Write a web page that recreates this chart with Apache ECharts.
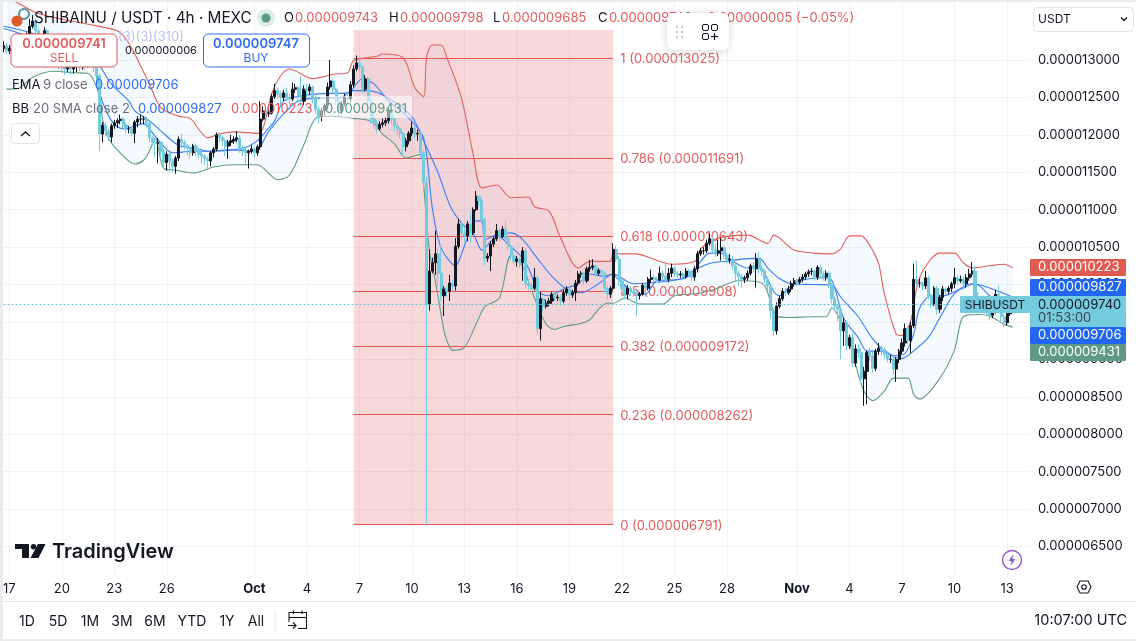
<!DOCTYPE html>
<html>
<head>
<meta charset="utf-8">
<title>SHIBAINU / USDT</title>
<script src="https://cdn.jsdelivr.net/npm/echarts@6/dist/echarts.min.js"></script>
<style>
html,body{margin:0;padding:0;background:#fff;}
#chart{width:1136px;height:641px;}
</style>
</head>
<body>
<div id="chart"></div>
<script>
// all prices in millionths of a USDT, 4h candles, index 0 = Sep 16 16:00
const closes = [
13.19,13.12,13.16,13.09,13.01,13.05, 13.15,13.23,13.32,13.45,13.52,13.39, 13.32,13.25,13.39,13.19,13.05,12.99,
12.96,12.92,12.91,12.88,12.91,12.88, 12.91,12.93,12.91,12.96,12.93,12.99, 12.96,12.91,12.79,12.01,12.13,12.05,
11.97,12.12,12.16,12.19,12.21,12.13, 12.08,12.08,12.02,12.17,12.21,12.21, 12.21,12.16,11.96,11.90,11.88,11.90,
11.78,11.63,11.74,11.65,11.58,11.69, 11.94,11.90,11.86,11.82,11.76,11.85, 11.78,11.74,11.72,11.68,11.65,11.76,
11.81,12.00,11.96,11.92,11.85,11.90, 11.92,11.94,11.96,11.81,11.80,11.76, 11.78,11.81,11.76,11.84,12.21,12.32,
12.29,12.29,12.51,12.59,12.55,12.50, 12.56,12.50,12.48,12.61,12.63,12.52, 12.45,12.61,12.59,12.64,12.50,12.34,
12.24,12.32,12.39,12.64,12.72,12.61, 12.45,12.32,12.41,12.50,12.48,12.67, 12.88,12.96,12.91,12.61,12.75,12.45,
12.21,12.16,12.08,12.14,12.16,12.19, 12.32,12.21,12.12,12.08,12.02,11.84, 11.92,12.02,12.09,12.01,12.02,11.76,
11.36,9.74,10.18,10.29,10.41,10.15, 9.85,9.94,9.91,10.02,9.98,10.51, 10.81,10.69,10.65,10.81,10.69,11.00,
11.18,11.12,10.87,10.35,10.38,10.54, 10.61,10.72,10.64,10.74,10.61,10.51, 10.38,10.31,10.34,10.29,10.45,10.01,
9.98,9.95,10.09,9.41,9.81,9.71, 9.75,9.78,9.87,9.82,9.83,9.78, 9.89,9.94,9.86,9.89,10.02,10.14,
10.15,10.05,10.21,10.23,10.25,10.15, 10.19,10.15,9.95,9.87,9.95,10.47, 10.34,10.05,9.94,9.87,9.95,9.91,
9.89,9.85,9.87,9.99,9.95,10.07, 10.09,10.07,10.06,10.15,10.11,10.07, 10.15,10.22,10.15,10.13,10.14,10.11,
10.18,10.15,10.10,10.21,10.41,10.45, 10.45,10.55,10.61,10.47,10.42,10.45, 10.49,10.39,10.33,10.34,10.25,10.15,
10.11,10.07,10.09,10.15,10.25,10.21, 10.34,10.21,10.18,10.07,9.98,9.65, 9.38,9.71,9.81,9.91,9.89,9.94,
10.01,10.05,10.03,10.07,10.10,10.14, 10.17,10.18,10.10,10.23,10.15,10.10, 10.15,9.99,9.81,9.71,9.67,9.38,
9.49,9.18,9.29,8.95,9.14,9.09, 8.74,8.84,9.09,9.05,8.88,9.11, 9.15,9.13,9.07,9.00,9.00,8.87,
9.00,9.11,9.22,9.41,9.25,9.45, 10.07,10.02,10.02,9.98,10.09,9.85, 9.74,9.95,9.67,9.83,9.94,9.91,
9.95,10.01,10.09,10.05,10.07,10.01, 10.09,10.14,10.18,9.83,9.78,9.74, 9.70,9.65,9.59,9.65,9.87,9.78,
9.57,9.49,9.61,9.74
];
const highs = [
13.25,13.23,13.20,13.19,13.12,13.10, 13.20,13.27,13.37,13.55,13.60,13.55, 13.43,13.35,13.44,13.42,13.22,13.08,
13.02,12.99,12.96,12.94,12.95,12.94, 12.95,12.97,12.96,12.99,12.98,13.03, 13.03,13.00,12.93,12.82,12.17,12.16,
12.08,12.15,12.20,12.22,12.27,12.24, 12.16,12.12,12.10,12.20,12.25,12.27, 12.25,12.24,12.18,11.98,11.94,11.96,
11.92,11.81,11.78,11.77,11.68,11.72, 11.98,12.02,11.93,11.88,11.85,11.88, 11.88,11.80,11.77,11.74,11.71,11.78,
11.84,12.03,12.03,11.99,11.95,11.93, 12.00,11.98,12.05,12.00,11.86,11.83, 11.80,11.86,11.84,11.87,12.45,12.38,
12.36,12.34,12.54,12.68,12.63,12.58, 12.60,12.63,12.55,12.70,12.68,12.66, 12.78,12.66,12.68,12.68,12.66,12.52,
12.38,12.36,12.42,12.70,13.00,12.75, 12.63,12.48,12.45,12.55,12.56,12.72, 12.93,13.06,13.00,12.93,12.80,12.78,
12.50,12.28,12.20,12.18,12.22,12.23, 12.36,12.37,12.24,12.16,12.10,12.04, 11.96,12.05,12.17,12.12,12.07,12.05,
11.80,11.44,10.47,10.36,10.72,10.48, 10.52,9.98,9.98,10.13,10.06,10.62, 10.88,10.85,10.76,10.85,10.98,11.03,
11.25,11.18,11.15,10.90,10.42,10.58, 10.64,10.81,10.75,10.78,10.85,10.64, 10.53,10.40,10.38,10.36,10.50,10.49,
10.06,10.02,10.22,10.12,9.90,9.83, 9.80,9.82,9.90,9.90,9.87,9.86, 9.93,9.98,9.96,9.93,10.06,10.18,
10.18,10.17,10.24,10.33,10.34,10.27, 10.22,10.21,10.18,9.98,9.98,10.55, 10.52,10.38,10.08,9.98,9.99,9.98,
9.95,9.93,9.90,10.02,10.01,10.10, 10.20,10.13,10.10,10.24,10.19,10.31, 10.22,10.28,10.25,10.18,10.18,10.17,
10.22,10.21,10.19,10.25,10.45,10.49, 10.50,10.60,10.68,10.64,10.54,10.60, 10.62,10.52,10.42,10.41,10.38,10.28,
10.18,10.14,10.12,10.19,10.28,10.30, 10.42,10.43,10.26,10.20,10.10,10.00, 9.68,9.76,9.85,9.95,9.95,9.98,
10.05,10.09,10.08,10.10,10.14,10.17, 10.20,10.22,10.21,10.26,10.25,10.18, 10.19,10.18,10.02,9.84,9.74,9.69,
9.56,9.52,9.33,9.35,9.20,9.20, 9.15,8.90,9.12,9.15,9.10,9.14, 9.22,9.19,9.16,9.10,9.06,9.06,
9.03,9.14,9.28,9.48,9.44,9.50, 10.28,10.32,10.08,10.05,10.18,10.12, 9.88,9.98,9.98,9.86,9.98,9.96,
9.98,10.04,10.22,10.13,10.12,10.11, 10.14,10.21,10.30,10.25,9.90,9.85, 9.78,9.75,9.68,9.70,9.93,9.98,
9.80,9.60,9.65,9.78
];
const lows = [
13.10,13.08,13.08,13.05,12.97,12.98, 13.02,13.12,13.20,13.30,13.42,13.33, 13.27,13.20,13.22,13.15,13.00,12.95,
12.90,12.87,12.84,12.80,12.84,12.80, 12.82,12.84,12.85,12.87,12.87,12.90, 12.90,12.84,12.70,11.78,11.90,11.98,
11.92,11.90,12.08,12.09,12.14,12.09, 12.02,12.02,11.98,11.89,12.10,12.14, 12.14,12.10,11.90,11.85,11.70,11.62,
11.72,11.55,11.52,11.50,11.50,11.48, 11.65,11.82,11.80,11.72,11.68,11.72, 11.72,11.68,11.62,11.60,11.55,11.58,
11.70,11.78,11.90,11.85,11.72,11.68, 11.85,11.88,11.90,11.76,11.72,11.60, 11.55,11.75,11.70,11.72,11.80,12.18,
12.25,12.24,12.27,12.48,12.48,12.40, 12.45,12.45,12.42,12.45,12.56,12.45, 12.38,12.40,12.50,12.54,12.42,12.28,
12.15,12.18,12.26,12.34,12.60,12.55, 12.40,12.25,12.28,12.38,12.42,12.44, 12.63,12.85,12.85,12.55,12.58,12.40,
12.15,12.10,12.02,12.06,12.10,12.12, 12.15,12.15,12.05,12.00,11.95,11.72, 11.78,11.87,11.98,11.95,11.92,11.70,
11.28,6.79,9.65,10.15,10.13,9.98, 9.78,9.58,9.84,9.78,9.92,9.92, 10.48,10.60,10.55,10.58,10.55,10.66,
10.98,11.05,10.82,10.25,10.30,10.18, 10.50,10.58,10.58,10.62,10.55,10.46, 10.33,10.27,10.24,10.22,10.05,9.95,
9.92,9.90,9.92,9.33,9.25,9.64, 9.68,9.71,9.74,9.78,9.78,9.72, 9.75,9.85,9.80,9.82,9.78,9.98,
10.09,10.00,10.02,10.17,10.19,10.10, 10.12,10.10,9.90,9.80,9.82,9.92, 10.30,9.98,9.85,9.80,9.80,9.85,
9.84,9.58,9.80,9.85,9.88,9.92, 10.02,10.03,10.02,10.04,10.07,10.02, 10.03,10.10,10.10,10.09,10.09,10.07,
10.08,10.11,10.05,10.05,10.16,10.38, 10.40,10.42,10.52,10.42,10.37,10.38, 10.32,10.34,10.28,10.28,10.20,10.05,
9.98,9.95,10.02,10.05,10.12,10.16, 9.96,10.15,10.12,10.02,9.92,9.55, 9.32,9.33,9.68,9.78,9.84,9.86,
9.90,9.97,9.98,10.00,10.03,10.06, 10.10,10.12,10.05,10.06,10.10,10.05, 10.05,9.95,9.75,9.65,9.51,9.00,
9.18,9.12,9.14,8.90,8.90,9.02, 8.68,8.38,8.40,8.98,8.82,8.84, 9.06,9.05,9.01,8.96,8.95,8.80,
8.70,8.95,9.07,9.17,9.20,9.08, 9.42,9.97,9.96,9.92,9.94,9.80, 9.68,9.71,9.60,9.62,9.78,9.85,
9.87,9.90,9.95,10.00,10.02,9.95, 9.96,10.05,10.10,9.80,9.72,9.68, 9.64,9.60,9.52,9.55,9.61,9.72,
9.50,9.43,9.45,9.58
];
const firstOpen = 13.15;

// indicator readings as [candle index, price]
const bbUpper = [[1,13.85],[5,13.76],[12,13.62],[23,13.52],[30,13.47],[39,13.39],[42,13.28],[45,13.08],[50,12.68],[54,12.36],[60,12.25],[64,12.22],[67,12.07],[70,11.96],[74,12.01],[79,12.04],[87,12.02],[89,12.09],[92,12.56],[95,12.79],[98,12.88],[106,12.75],[113,12.81],[118,12.83],[120,12.99],[128,13.05],[130,13.08],[137,13.03],[141,12.63],[144,12.51],[145,13.03],[147,13.20],[150,13.20],[152,13.03],[157,12.49],[161,11.74],[164,11.29],[169,11.33],[174,11.16],[180,11.17],[182,11.04],[187,10.98],[191,10.62],[197,10.22],[201,10.31],[208,10.31],[209,10.41],[217,10.41],[222,10.35],[229,10.27],[237,10.31],[239,10.48],[245,10.62],[255,10.66],[262,10.55],[264,10.66],[271,10.46],[278,10.42],[284,10.41],[287,10.48],[290,10.65],[294,10.65],[296,10.58],[298,10.45],[300,10.28],[302,9.87],[306,9.34],[308,9.32],[311,9.52],[314,10.09],[321,10.42],[326,10.42],[329,10.29],[332,10.22],[338,10.25],[343,10.27],[346,10.22]];
const bbLower = [[1,12.61],[5,12.62],[10,12.77],[17,12.85],[24,12.83],[29,12.82],[33,12.51],[34,12.20],[36,11.95],[39,11.80],[45,11.61],[48,11.66],[50,11.78],[52,11.95],[55,11.55],[59,11.53],[65,11.49],[72,11.57],[79,11.60],[87,11.60],[94,11.40],[98,11.46],[103,11.87],[107,12.22],[112,12.25],[120,12.22],[126,12.18],[130,12.01],[134,11.88],[138,11.69],[143,11.74],[144,11.34],[146,10.45],[148,10.05],[151,9.38],[152,9.25],[154,9.12],[158,9.16],[162,9.47],[165,9.70],[170,9.82],[174,10.39],[178,10.23],[182,9.82],[186,9.47],[189,9.40],[192,9.44],[198,9.48],[201,9.53],[204,9.67],[207,9.75],[209,9.75],[213,9.82],[218,9.74],[226,9.74],[230,9.85],[238,9.88],[244,9.94],[252,10.05],[258,10.04],[261,9.98],[265,9.58],[269,9.56],[278,9.57],[282,9.57],[284,9.69],[287,9.51],[289,9.34],[292,8.94],[295,8.57],[298,8.45],[302,8.58],[305,8.75],[310,8.75],[312,8.53],[314,8.47],[321,8.75],[326,9.13],[329,9.57],[334,9.60],[338,9.58],[343,9.47],[346,9.43]];
const bbBasis = [[0,13.45],[8,13.38],[18,13.25],[26,13.12],[31,13.03],[37,12.68],[43,12.45],[45,12.32],[50,12.19],[54,12.05],[60,11.86],[66,11.82],[70,11.78],[77,11.80],[86,11.78],[91,12.05],[96,12.28],[101,12.45],[108,12.49],[115,12.49],[120,12.59],[125,12.59],[132,12.49],[140,12.24],[144,11.92],[149,11.49],[153,11.06],[157,10.82],[161,10.68],[164,10.46],[168,10.61],[174,10.69],[178,10.60],[183,10.35],[188,10.11],[193,9.94],[198,9.89],[204,10.01],[209,10.14],[216,10.01],[229,10.05],[233,10.09],[238,10.22],[243,10.29],[248,10.31],[253,10.34],[259,10.35],[262,10.22],[266,10.08],[270,10.01],[278,10.00],[284,9.99],[287,9.83],[293,9.57],[298,9.27],[303,9.08],[308,9.01],[310,9.05],[317,9.29],[321,9.56],[326,9.88],[332,10.01],[336,9.98],[341,9.91],[346,9.83]];
const ema9 = [[0,13.42],[6,13.35],[15,13.20],[24,13.10],[31,12.95],[33,12.55],[37,12.19],[41,12.08],[48,12.15],[52,11.98],[58,11.76],[65,11.78],[72,11.78],[82,11.82],[87,11.92],[90,12.05],[93,12.19],[96,12.45],[102,12.52],[109,12.55],[118,12.56],[123,12.75],[127,12.68],[132,12.45],[139,12.22],[144,11.96],[147,11.02],[150,10.49],[155,10.25],[157,10.41],[159,10.62],[162,10.85],[164,10.85],[165,10.60],[169,10.66],[173,10.54],[178,10.35],[181,10.13],[183,9.91],[187,9.85],[192,9.94],[197,10.01],[201,10.14],[206,10.11],[209,10.14],[210,10.10],[213,9.99],[216,9.89],[220,9.87],[224,10.05],[232,10.07],[236,10.14],[239,10.31],[242,10.42],[246,10.42],[250,10.31],[255,10.22],[258,10.25],[261,10.14],[264,9.91],[266,9.85],[269,9.95],[273,10.05],[281,10.09],[284,10.05],[288,9.55],[293,9.29],[296,9.11],[302,9.11],[305,9.05],[309,9.08],[312,9.34],[314,9.68],[318,9.85],[322,9.85],[328,9.94],[333,10.01],[338,9.85],[342,9.71],[346,9.71]];

// fib retracement
const fibRatios = ['1','0.786','0.618','0.5','0.382','0.236','0'];
const fibPrices = [13.025,11.691,10.643,9.908,9.172,8.262,6.791];
const fibRange = [120,209];
const fibTop = 13.40;

const lastPrice = 9.74;
const candleCount = 353;
const xTickIndex = [2,20,38,56,86,104,122,140,158,176,194,212,230,248,272,290,308,326,344];
const xTickLabels = ['17','20','23','26','Oct','4','7','10','13','16','19','22','25','28','Nov','4','7','10','13'];
const yTicks = [6.5,7,7.5,8,8.5,9,9.5,10,10.5,11,11.5,12,12.5,13];

const FONT = 'Inter, "Liberation Sans", sans-serif';
const RED = '#e05c5c', BLUE = '#2f6bf0', GREEN = '#5f9a85', TEAL = '#74cbdd', INK = '#131722', GRID = '#f1f2f5';

const categories = Array.from({ length: candleCount }, (_, i) => String(i));
const ohlc = closes.map((c, i) => [i === 0 ? firstOpen : closes[i - 1], c, lows[i], highs[i]]);

function fmtPrice(v) { return (v / 1e6).toFixed(9); }

function txt(x, y, text, fill, size, weight, align) {
  return {
    type: 'text', x: x, y: y, z: 20, silent: true,
    style: { text: text, fill: fill, font: (weight || 400) + ' ' + (size || 13) + 'px ' + FONT, align: align || 'left', verticalAlign: 'middle' }
  };
}
function box(x, y, w, h, fill, stroke, r, z) {
  return {
    type: 'rect', z: z || 18, silent: true,
    shape: { x: x, y: y, width: w, height: h, r: r || 0 },
    style: { fill: fill, stroke: stroke || null, lineWidth: 1 }
  };
}
function stroke(points, color, w) {
  return { type: 'polyline', z: 20, silent: true, shape: { points: points }, style: { stroke: color, fill: null, lineWidth: w || 1.3 } };
}
function tag(y, h, color, text) {
  return [box(1030, y, 96, h, color, null, 1, 19), txt(1038, y + h / 2, text, '#fff', 13)];
}

const overlay = [
  // header
  { type: 'circle', z: 20, silent: true, shape: { cx: 24, cy: 14, r: 5 }, style: { fill: null, stroke: '#5a8f9a', lineWidth: 2 } },
  { type: 'circle', z: 20, silent: true, shape: { cx: 17, cy: 21, r: 5.5 }, style: { fill: '#e0592a' } },
  txt(34, 18, 'SHIBAINU / USDT · 4h · MEXC', INK, 15.3),
  { type: 'circle', z: 20, silent: true, shape: { cx: 266, cy: 18, r: 9 }, style: { fill: '#dcebe5' } },
  { type: 'circle', z: 20, silent: true, shape: { cx: 266, cy: 18, r: 4.5 }, style: { fill: '#5f9a85' } },
  txt(284, 18, 'O', INK, 13), txt(295, 18, '0.000009743', RED, 13),
  txt(389, 18, 'H', INK, 13), txt(400, 18, '0.000009798', RED, 13),
  txt(493, 18, 'L', INK, 13), txt(502, 18, '0.000009685', RED, 13),
  txt(598, 18, 'C', INK, 13), txt(609, 18, '0.000009740', RED, 13),
  txt(699, 18, '−0.000000005 (−0.05%)', RED, 13),
  // floating toolbar
  Object.assign(box(667, 13, 62, 37, '#fff', null, 6, 21), { style: { fill: '#fff', shadowBlur: 8, shadowColor: 'rgba(0,0,0,0.16)', shadowOffsetY: 1 } }),
  box(676, 26, 2, 2, '#c8cad0', null, 0, 22), box(681, 26, 2, 2, '#c8cad0', null, 0, 22),
  box(676, 31, 2, 2, '#c8cad0', null, 0, 22), box(681, 31, 2, 2, '#c8cad0', null, 0, 22),
  box(676, 36, 2, 2, '#c8cad0', null, 0, 22), box(681, 36, 2, 2, '#c8cad0', null, 0, 22),
  box(702.5, 24.5, 6, 6, null, INK, 1.5, 22), box(711.5, 24.5, 6, 6, null, INK, 1.5, 22), box(702.5, 33.5, 6, 6, null, INK, 1.5, 22),
  Object.assign(stroke([[711, 36.5], [718, 36.5]], INK, 1.2), { z: 22 }), Object.assign(stroke([[714.5, 33], [714.5, 40]], INK, 1.2), { z: 22 }),
  // sell / buy
  txt(118, 37, '(3)(3)(310)', '#b6c3f5', 13),
  box(11, 34, 106, 33, '#fff', RED, 5),
  txt(64, 44, '0.000009741', RED, 13, 600, 'center'), txt(64, 58, 'SELL', RED, 12, 400, 'center'),
  txt(161, 51, '0.000000006', INK, 11, 400, 'center'),
  box(203.5, 34, 106, 33, '#fff', BLUE, 5),
  txt(256, 44, '0.000009747', BLUE, 13, 600, 'center'), txt(256, 58, 'BUY', BLUE, 12, 400, 'center'),
  // indicator legends
  txt(12, 85, 'EMA', INK, 13), txt(43, 85, '9 close', '#6a6d78', 13), txt(95, 85, '0.000009706', BLUE, 13),
  box(320, 96, 92, 22, 'rgba(255,255,255,0.55)', null, 0, 17),
  txt(12, 109, 'BB', INK, 13), txt(33, 109, '20 SMA close 2', '#6a6d78', 13),
  txt(138, 109, '0.000009827', BLUE, 13), txt(231, 109, '0.000010223', RED, 13), txt(325, 109, '0.000009431', GREEN, 13),
  box(11.5, 123.5, 28, 20, '#fff', '#e0e3eb', 3),
  stroke([[21, 136], [25.5, 132], [30, 136]], INK, 1.4),
  // price tags
  ...tag(259, 17, '#e05c52', '0.000010223'),
  ...tag(279, 17, '#2167f2', '0.000009827'),
  box(1030, 296, 96, 31, TEAL, null, 1, 19),
  txt(1038, 305, '0.000009740', INK, 13), txt(1038, 318, '01:53:00', '#3d4450', 13),
  ...tag(327, 17, '#2167f2', '0.000009706'),
  ...tag(344, 17, '#5f9a85', '0.000009431'),
  box(960, 296, 70, 17, TEAL, null, 1, 19), txt(995, 305, 'SHIBUSDT', INK, 12, 400, 'center'),
  // currency select
  box(1033.5, 7.5, 100, 24, '#fff', '#e0e3eb', 4),
  txt(1038, 19, 'USDT', INK, 12),
  stroke([[1121, 17.5], [1124, 20.5], [1127, 17.5]], INK, 1.3),
  // logo
  { type: 'polygon', z: 20, silent: true, shape: { points: [[15, 544], [29, 544], [29, 558], [22, 558], [22, 549], [15, 549]] }, style: { fill: INK } },
  { type: 'circle', z: 20, silent: true, shape: { cx: 33.5, cy: 546.7, r: 2.7 }, style: { fill: INK } },
  { type: 'polygon', z: 20, silent: true, shape: { points: [[38, 544], [45.5, 544], [38.5, 558], [30.5, 558]] }, style: { fill: INK } },
  txt(52, 552, 'TradingView', INK, 20, 600),
  // small icons
  { type: 'circle', z: 20, silent: true, shape: { cx: 1012, cy: 560, r: 9.5 }, style: { fill: '#fff', stroke: '#8e5bd0', lineWidth: 1.4 } },
  { type: 'polygon', z: 20, silent: true, shape: { points: [[1013.5, 554], [1008.5, 561], [1011.5, 561], [1010.5, 566], [1015.5, 559], [1012.5, 559]] }, style: { fill: '#8e5bd0' } },
  { type: 'polygon', z: 20, silent: true, shape: { points: [[1080, 581], [1088, 581], [1091, 587], [1088, 593], [1080, 593], [1077, 587]] }, style: { fill: '#fff', stroke: INK, lineWidth: 1.1 } },
  { type: 'circle', z: 20, silent: true, shape: { cx: 1084, cy: 587, r: 2.3 }, style: { fill: '#fff', stroke: INK, lineWidth: 1.1 } },
  // bottom bar
  box(3, 601, 1133, 1, '#e4e6ea', null, 0, 16),
  txt(27, 622, '1D', INK, 14, 400, 'center'), txt(58, 622, '5D', INK, 14, 400, 'center'),
  txt(90, 622, '1M', INK, 14, 400, 'center'), txt(122, 622, '3M', INK, 14, 400, 'center'),
  txt(155, 622, '6M', INK, 14, 400, 'center'), txt(192, 622, 'YTD', INK, 14, 400, 'center'),
  txt(227, 622, '1Y', INK, 14, 400, 'center'), txt(256, 622, 'All', INK, 14, 400, 'center'),
  box(274.5, 610, 1, 22, '#e4e6ea', null, 0, 16),
  stroke([[289, 622], [289, 612.5], [306.5, 612.5], [306.5, 628.5], [298, 628.5]], INK, 1.1),
  stroke([[289, 617.5], [306.5, 617.5]], INK, 1.1),
  stroke([[293.5, 610.5], [293.5, 614]], INK, 1.1), stroke([[302, 610.5], [302, 614]], INK, 1.1),
  stroke([[288, 625.5], [296, 625.5]], INK, 1.1), stroke([[293, 622.5], [296, 625.5], [293, 628.5]], INK, 1.1),
  txt(1127, 621, '10:07:00 UTC', INK, 14.5, 400, 'right'),
  // page edges
  box(0, 0, 3, 641, '#ebebeb', null, 0, 25), box(0, 0, 1136, 2, '#ebebeb', null, 0, 25), box(0, 639, 1136, 2, '#ebebeb', null, 0, 25)
];

const chart = echarts.init(document.getElementById('chart'), null, { renderer: 'canvas' });

const lineSeries = (name, data, color, z) => ({
  name: name, type: 'line', data: data, z: z || 3, showSymbol: false, symbol: 'none', smooth: 0.3, silent: true,
  lineStyle: { color: color, width: 1.1 }
});

chart.setOption({
  animation: false,
  backgroundColor: '#fff',
  textStyle: { fontFamily: FONT },
  grid: { left: 0.8, top: 1, width: 1029.6, height: 575 },
  graphic: overlay,
  xAxis: {
    type: 'category', data: categories, boundaryGap: false,
    axisLine: { show: false }, axisTick: { show: false },
    axisLabel: {
      interval: (i) => xTickIndex.includes(i), margin: 7, color: INK, fontSize: 13, showMinLabel: true, hideOverlap: false,
      formatter: (v, i) => {
        const t = xTickLabels[xTickIndex.indexOf(Number(v))];
        return t === 'Oct' || t === 'Nov' ? '{b|' + t + '}' : t;
      },
      rich: { b: { fontWeight: 700, fontSize: 13, color: INK, fontFamily: FONT } }
    },
    splitLine: { show: true, interval: (i) => xTickIndex.includes(i), lineStyle: { color: GRID, width: 1 } }
  },
  yAxis: {
    type: 'value', position: 'right', min: 6.106, max: 13.788, scale: true,
    axisLine: { show: false },
    axisTick: { show: false, customValues: yTicks },
    axisLabel: { customValues: yTicks, formatter: fmtPrice, color: INK, fontSize: 13, margin: 7.6, fontFamily: FONT },
    splitLine: { show: true, lineStyle: { color: GRID, width: 1 } }
  },
  series: [
    {
      // band fill
      type: 'custom', z: 1, silent: true, data: [[0, 0]],
      renderItem: (params, api) => {
        const pts = bbUpper.concat(bbLower.slice().reverse()).map((p) => api.coord(p));
        return { type: 'polygon', shape: { points: pts }, style: { fill: 'rgba(33,150,243,0.05)' } };
      }
    },
    {
      // fib retracement block
      name: 'Fib', type: 'line', data: [], z: 2, silent: true,
      markArea: {
        silent: true, z: 2,
        itemStyle: { color: 'rgba(224,62,70,0.2)' },
        data: [[{ coord: [fibRange[0], fibTop] }, { coord: [fibRange[1], fibPrices[6]] }]]
      },
      markLine: {
        silent: true, symbol: 'none', animation: false, z: 2,
        lineStyle: { color: '#e8534e', width: 1, type: 'solid' },
        label: { position: 'end', distance: 7, offset: [0, 1], color: RED, fontSize: 13, fontFamily: FONT, align: 'left' },
        data: fibPrices.map((p, i) => [
          { coord: [fibRange[0], p], label: { formatter: fibRatios[i] + ' (' + fmtPrice(p) + ')' } },
          { coord: [fibRange[1], p] }
        ])
      }
    },
    lineSeries('BB upper', bbUpper, '#e0605a'),
    lineSeries('BB lower', bbLower, GREEN),
    lineSeries('BB basis', bbBasis, '#3a7df2'),
    lineSeries('EMA 9', ema9, '#3a7df2'),
    {
      name: 'SHIBUSDT', type: 'candlestick', data: ohlc, z: 4, barWidth: 2.6, silent: true, clip: true,
      itemStyle: { color: '#131722', color0: TEAL, borderColor: '#131722', borderColor0: TEAL, borderWidth: 1 },
      markLine: {
        silent: true, symbol: 'none', animation: false,
        lineStyle: { color: '#5cc0d6', width: 1, type: [2, 2] },
        label: { show: false },
        data: [{ yAxis: lastPrice }]
      }
    }
  ]
});
</script>
</body>
</html>
